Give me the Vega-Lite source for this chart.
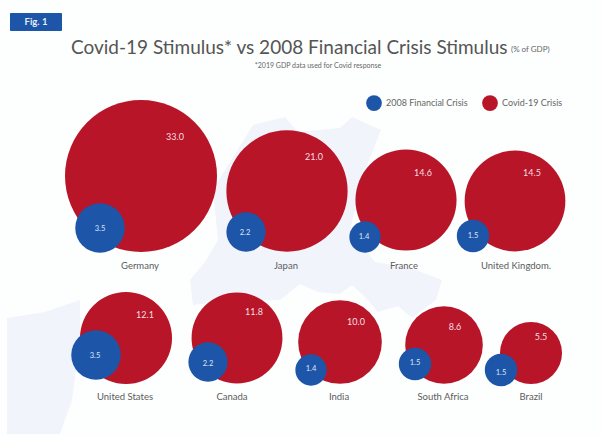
{
  "$schema": "https://vega.github.io/schema/vega-lite/v6.json",
  "width": 602,
  "height": 436,
  "autosize": {"type": "fit", "contains": "padding"},
  "padding": 0,
  "background": "#fdfefe",
  "config": {"view": {"stroke": null}, "font": "Lato", "text": {"font": "Lato"}},
  "datasets": {
    "stimulus": [
      {"seat": 1, "country": "Germany", "series": "Covid-19 Crisis", "value": 33.0},
      {"seat": 2, "country": "Japan", "series": "Covid-19 Crisis", "value": 21.0},
      {"seat": 3, "country": "France", "series": "Covid-19 Crisis", "value": 14.6},
      {"seat": 4, "country": "United Kingdom.", "series": "Covid-19 Crisis", "value": 14.5},
      {"seat": 5, "country": "United States", "series": "Covid-19 Crisis", "value": 12.1},
      {"seat": 6, "country": "Canada", "series": "Covid-19 Crisis", "value": 11.8},
      {"seat": 7, "country": "India", "series": "Covid-19 Crisis", "value": 10.0},
      {"seat": 8, "country": "South Africa", "series": "Covid-19 Crisis", "value": 8.6},
      {"seat": 9, "country": "Brazil", "series": "Covid-19 Crisis", "value": 5.5},
      {"seat": 1, "country": "Germany", "series": "2008 Financial Crisis", "value": 3.5},
      {"seat": 2, "country": "Japan", "series": "2008 Financial Crisis", "value": 2.2},
      {"seat": 3, "country": "France", "series": "2008 Financial Crisis", "value": 1.4},
      {"seat": 4, "country": "United Kingdom.", "series": "2008 Financial Crisis", "value": 1.5},
      {"seat": 5, "country": "United States", "series": "2008 Financial Crisis", "value": 3.5},
      {"seat": 6, "country": "Canada", "series": "2008 Financial Crisis", "value": 2.2},
      {"seat": 7, "country": "India", "series": "2008 Financial Crisis", "value": 1.4},
      {"seat": 8, "country": "South Africa", "series": "2008 Financial Crisis", "value": 1.5},
      {"seat": 9, "country": "Brazil", "series": "2008 Financial Crisis", "value": 1.5}
    ]
  },
  "resolve": {"scale": {"x": "independent", "y": "independent"}},
  "layer": [
    {
      "description": "Pale continents behind the bubbles",
      "data": {"values": [
        {"type": "Feature", "properties": {"name": "centre"}, "geometry": {"type": "Polygon", "coordinates": [[[253,125],[285,117],[298,132],[340,128],[352,117],[381,130],[365,170],[350,230],[375,262],[410,268],[442,280],[436,300],[412,318],[398,306],[378,312],[366,298],[352,285],[340,294],[318,292],[300,284],[280,300],[240,300],[193,305],[190,280],[205,262],[218,240],[213,190],[225,170],[235,150]]]}},
        {"type": "Feature", "properties": {"name": "left"}, "geometry": {"type": "Polygon", "coordinates": [[[7,318],[45,312],[80,300],[80,340],[72,400],[60,434],[7,434],[7,380]]]}}
      ]},
      "mark": {"type": "geoshape", "fill": "#f1f4fa", "stroke": null},
      "projection": {"type": "identity", "scale": 1, "translate": [0, 0]}
    },
    {
      "data": {"name": "stimulus"},
      "transform": [{"filter": "datum.series === 'Covid-19 Crisis'"}],
      "mark": {"type": "circle", "opacity": 1},
      "encoding": {
        "x": {"field": "seat", "type": "quantitative", "axis": null,
          "scale": {"domain": [1,2,3,4,5,6,7,8,9], "range": [141,287,406,515,126,237,340,444,531]}},
        "y": {"field": "seat", "type": "quantitative", "axis": null,
          "scale": {"domain": [1,2,3,4,5,6,7,8,9], "range": [176,191,200,201,338,338,342,345,353]}},
        "size": {"field": "value", "type": "quantitative", "legend": null,
          "scale": {"domain": [0, 33], "range": [0, 23104]}},
        "color": {"field": "series", "type": "nominal",
          "scale": {"domain": ["2008 Financial Crisis", "Covid-19 Crisis"], "range": ["#1d55a8", "#b81528"]},
          "legend": {"title": null, "orient": "none", "legendX": 366, "legendY": 95, "direction": "horizontal", "columns": 2,
            "symbolType": "circle", "symbolSize": 250, "symbolStrokeWidth": 0, "symbolOpacity": 1,
            "labelFont": "Lato", "labelFontSize": 9, "labelColor": "#666666", "columnPadding": 14, "labelOffset": 4}}
      }
    },
    {
      "data": {"name": "stimulus"},
      "transform": [{"filter": "datum.series === '2008 Financial Crisis'"}],
      "mark": {"type": "circle", "opacity": 1},
      "encoding": {
        "x": {"field": "seat", "type": "quantitative", "axis": null,
          "scale": {"domain": [1,2,3,4,5,6,7,8,9], "range": [100,246,365,473,96,208,311,415,501]}},
        "y": {"field": "seat", "type": "quantitative", "axis": null,
          "scale": {"domain": [1,2,3,4,5,6,7,8,9], "range": [228,232,237,236,355,362,370,364,370]}},
        "size": {"field": "value", "type": "quantitative", "legend": null,
          "scale": {"domain": [0, 33], "range": [0, 23104]}},
        "color": {"field": "series", "type": "nominal"}
      }
    },
    {
      "data": {"name": "stimulus"},
      "transform": [{"filter": "datum.series === 'Covid-19 Crisis'"}],
      "mark": {"type": "text", "fontSize": 9, "color": "#f6dfe1", "align": "center", "baseline": "middle"},
      "encoding": {
        "x": {"field": "seat", "type": "quantitative", "axis": null,
          "scale": {"domain": [1,2,3,4,5,6,7,8,9], "range": [175,314,423,532,145,254,356,455,541]}},
        "y": {"field": "seat", "type": "quantitative", "axis": null,
          "scale": {"domain": [1,2,3,4,5,6,7,8,9], "range": [137,157,173,173,315,312,322,327,337]}},
        "text": {"field": "value", "type": "quantitative", "format": ".1f"}
      }
    },
    {
      "data": {"name": "stimulus"},
      "transform": [{"filter": "datum.series === '2008 Financial Crisis'"}],
      "mark": {"type": "text", "fontSize": 7.5, "color": "#dfe8f6", "align": "center", "baseline": "middle"},
      "encoding": {
        "x": {"field": "seat", "type": "quantitative", "axis": null,
          "scale": {"domain": [1,2,3,4,5,6,7,8,9], "range": [100,245,364,473,95,208,311,415,501]}},
        "y": {"field": "seat", "type": "quantitative", "axis": null,
          "scale": {"domain": [1,2,3,4,5,6,7,8,9], "range": [229,233,237,236,356,364,369,363,373]}},
        "text": {"field": "value", "type": "quantitative", "format": ".1f"}
      }
    },
    {
      "data": {"name": "stimulus"},
      "transform": [{"filter": "datum.series === 'Covid-19 Crisis'"}],
      "mark": {"type": "text", "fontSize": 9.5, "color": "#5c5c5c", "align": "center", "baseline": "middle"},
      "encoding": {
        "x": {"field": "seat", "type": "quantitative", "axis": null,
          "scale": {"domain": [1,2,3,4,5,6,7,8,9], "range": [140,286,404,516,125,232,339,443,531]}},
        "y": {"field": "seat", "type": "quantitative", "axis": null,
          "scale": {"domain": [1,2,3,4,5,6,7,8,9], "range": [266,266,266,266,397,397,397,397,397]}},
        "text": {"field": "country", "type": "nominal"}
      }
    },
    {
      "data": {"values": [{"note": "Fig. 1"}]},
      "mark": {"type": "rect", "fill": "#1d55a8", "cornerRadius": 1},
      "encoding": {
        "x": {"datum": 10, "type": "quantitative", "axis": null, "scale": {"domain": [0, 602], "range": [0, 602]}},
        "x2": {"datum": 62},
        "y": {"datum": 13, "type": "quantitative", "axis": null, "scale": {"domain": [0, 436], "range": [0, 436]}},
        "y2": {"datum": 31}
      }
    },
    {
      "data": {"values": [{"note": "Fig. 1"}]},
      "mark": {"type": "text", "fontSize": 9.5, "fontWeight": "bold", "color": "#e8eef8", "align": "center", "baseline": "middle"},
      "encoding": {
        "x": {"datum": 36, "type": "quantitative", "axis": null, "scale": {"domain": [0, 602], "range": [0, 602]}},
        "y": {"datum": 22, "type": "quantitative", "axis": null, "scale": {"domain": [0, 436], "range": [0, 436]}},
        "text": {"field": "note"}
      }
    },
    {
      "data": {"values": [{"note": "Covid-19 Stimulus* vs 2008 Financial Crisis Stimulus"}]},
      "mark": {"type": "text", "fontSize": 19, "color": "#555555", "align": "left", "baseline": "middle"},
      "encoding": {
        "x": {"datum": 71, "type": "quantitative", "axis": null, "scale": {"domain": [0, 602], "range": [0, 602]}},
        "y": {"datum": 48, "type": "quantitative", "axis": null, "scale": {"domain": [0, 436], "range": [0, 436]}},
        "text": {"field": "note"}
      }
    },
    {
      "data": {"values": [{"note": "(% of GDP)"}]},
      "mark": {"type": "text", "fontSize": 8, "color": "#666666", "align": "left", "baseline": "middle"},
      "encoding": {
        "x": {"datum": 511, "type": "quantitative", "axis": null, "scale": {"domain": [0, 602], "range": [0, 602]}},
        "y": {"datum": 50, "type": "quantitative", "axis": null, "scale": {"domain": [0, 436], "range": [0, 436]}},
        "text": {"field": "note"}
      }
    },
    {
      "data": {"values": [{"note": "*2019 GDP data used for Covid response"}]},
      "mark": {"type": "text", "fontSize": 7, "color": "#666666", "align": "center", "baseline": "middle"},
      "encoding": {
        "x": {"datum": 318, "type": "quantitative", "axis": null, "scale": {"domain": [0, 602], "range": [0, 602]}},
        "y": {"datum": 66, "type": "quantitative", "axis": null, "scale": {"domain": [0, 436], "range": [0, 436]}},
        "text": {"field": "note"}
      }
    }
  ]
}
